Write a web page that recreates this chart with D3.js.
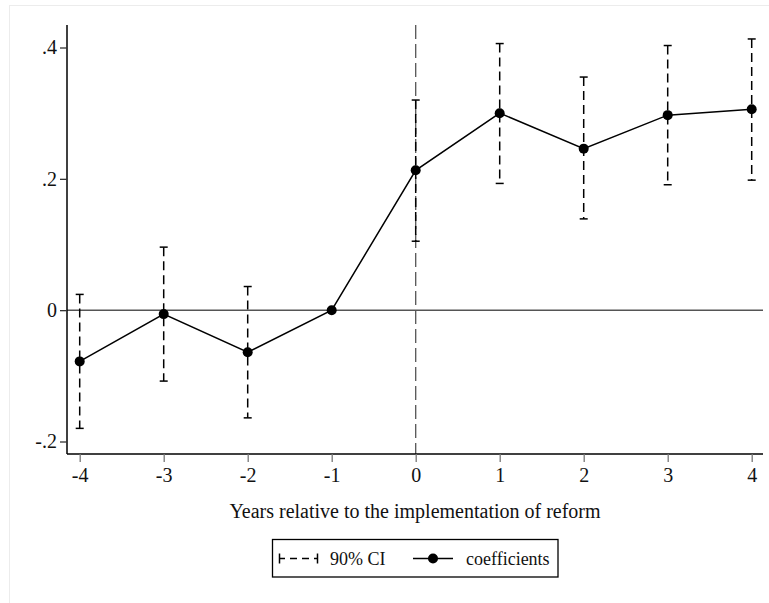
<!DOCTYPE html>
<meta charset="utf-8">
<style>
body { margin: 0; background: #fff; }
text { font-family: "Liberation Serif", "Times New Roman", serif; fill: #111; }
</style>
<body>
<script src="https://cdnjs.cloudflare.com/ajax/libs/d3/7.8.5/d3.min.js"></script>
<script>

// event-study estimates
var years = [-4, -3, -2, -1, 0, 1, 2, 3, 4];
var coef  = [-0.078, -0.006, -0.064, 0, 0.213, 0.300, 0.246, 0.297, 0.306];
var ciLow = [-0.180, -0.108, -0.164, null, 0.105, 0.193, 0.139, 0.191, 0.198];
var ciHigh = [0.024, 0.096, 0.036, null, 0.320, 0.406, 0.355, 0.403, 0.413];
var yTicks = [-0.2, 0, 0.2, 0.4];

var serif = '"Liberation Serif", "Times New Roman", serif';

var svg = d3.select("body").append("svg")
    .attr("width", 769)
    .attr("height", 603);

// faint outer frame
svg.append("rect")
    .attr("x", 9.5).attr("y", 5.5)
    .attr("width", 800).attr("height", 700)
    .attr("fill", "none").attr("stroke", "#ececec");

// plot region
var pLeft = 67, pRight = 763, pTop = 25, pBottom = 454;

var x = d3.scaleLinear().domain([-4, 4]).range([79.7, 751.7]);
var y = d3.scaleLinear().domain([-0.2, 0.4]).range([441.5, 47.5]);

var pts = years.map(function(d, i) {
  return {year: d, b: coef[i], lo: ciLow[i], hi: ciHigh[i]};
});

// zero line
svg.append("line")
    .attr("x1", pLeft).attr("x2", pRight)
    .attr("y1", y(0)).attr("y2", y(0))
    .attr("stroke", "#555").attr("stroke-width", 1.5);

// reform line at year 0
svg.append("line")
    .attr("x1", x(0)).attr("x2", x(0))
    .attr("y1", pTop).attr("y2", pBottom)
    .attr("stroke", "#555").attr("stroke-width", 1.3)
    .attr("stroke-dasharray", "14,5");

// y axis
var yAxis = svg.append("g")
    .attr("transform", "translate(" + pLeft + ",0)")
    .attr("font-family", serif)
    .call(d3.axisLeft(y).tickValues(yTicks).tickSize(7).tickPadding(3)
      .tickFormat(function(d) { return d === 0 ? "0" : d3.format(".1f")(d).replace("0.", ".").replace("−", "-"); }));
yAxis.select(".domain").attr("d", "M0," + pTop + "V" + pBottom)
    .attr("stroke", "#000").attr("stroke-width", 1.5);
yAxis.selectAll(".tick line").attr("stroke", "#333").attr("stroke-width", 1.3);
yAxis.selectAll(".tick text").style("font-size", "20px")
    .style("font-family", serif).attr("fill", "#222");

// x axis
var xAxis = svg.append("g")
    .attr("transform", "translate(0," + pBottom + ")")
    .attr("font-family", serif)
    .call(d3.axisBottom(x).tickValues(years).tickSize(8).tickPadding(6)
      .tickFormat(function(d) { return String(d); }));
xAxis.select(".domain").attr("d", "M" + pLeft + ",0H" + pRight)
    .attr("stroke", "#000").attr("stroke-width", 1.5);
xAxis.selectAll(".tick line").attr("stroke", "#777").attr("stroke-width", 1.3);
xAxis.selectAll(".tick text").style("font-size", "20px")
    .style("font-family", serif).attr("fill", "#222");

// axis title
svg.append("text")
    .attr("x", 415).attr("y", 518)
    .attr("text-anchor", "middle")
    .style("font-size", "20px")
    .text("Years relative to the implementation of reform");

// confidence intervals
var ci = pts.filter(function(d) { return d.lo !== null; });
var bars = svg.append("g").attr("stroke", "#000").attr("stroke-width", 1.5);
bars.selectAll(".ci")
    .data(ci)
  .enter().append("line")
    .attr("x1", function(d) { return x(d.year); })
    .attr("x2", function(d) { return x(d.year); })
    .attr("y1", function(d) { return y(d.hi); })
    .attr("y2", function(d) { return y(d.lo); })
    .attr("stroke-dasharray", "9,5");
["hi", "lo"].forEach(function(k) {
  bars.selectAll(".cap-" + k)
      .data(ci)
    .enter().append("line")
      .attr("class", "cap-" + k)
      .attr("x1", function(d) { return x(d.year) - 4; })
      .attr("x2", function(d) { return x(d.year) + 4; })
      .attr("y1", function(d) { return y(d[k]); })
      .attr("y2", function(d) { return y(d[k]); });
});

// coefficient line and points
svg.append("path")
    .datum(pts)
    .attr("fill", "none").attr("stroke", "#000").attr("stroke-width", 1.5)
    .attr("d", d3.line().x(function(d) { return x(d.year); }).y(function(d) { return y(d.b); }));
svg.selectAll(".dot")
    .data(pts)
  .enter().append("circle")
    .attr("cx", function(d) { return x(d.year); })
    .attr("cy", function(d) { return y(d.b); })
    .attr("r", 5).attr("fill", "#000");

// legend
var lg = svg.append("g");
lg.append("rect")
    .attr("x", 272.5).attr("y", 539.5)
    .attr("width", 285.5).attr("height", 37.5)
    .attr("fill", "#fff").attr("stroke", "#000").attr("stroke-width", 1.3);
var ly = 558.5;
lg.append("line").attr("x1", 279).attr("x2", 318).attr("y1", ly).attr("y2", ly)
    .attr("stroke", "#000").attr("stroke-width", 1.5).attr("stroke-dasharray", "6,5,7,5,7,5,6");
lg.append("line").attr("x1", 279.5).attr("x2", 279.5).attr("y1", ly - 5).attr("y2", ly + 5)
    .attr("stroke", "#000").attr("stroke-width", 1.5);
lg.append("line").attr("x1", 317.5).attr("x2", 317.5).attr("y1", ly - 5).attr("y2", ly + 5)
    .attr("stroke", "#000").attr("stroke-width", 1.5);
lg.append("text").attr("x", 330).attr("y", ly + 6).style("font-size", "18px").text("90% CI");
lg.append("line").attr("x1", 413).attr("x2", 453).attr("y1", ly).attr("y2", ly)
    .attr("stroke", "#000").attr("stroke-width", 1.5);
lg.append("circle").attr("cx", 433).attr("cy", ly).attr("r", 5).attr("fill", "#000");
lg.append("text").attr("x", 466).attr("y", ly + 6).style("font-size", "18px").text("coefficients");

</script>
</body>
